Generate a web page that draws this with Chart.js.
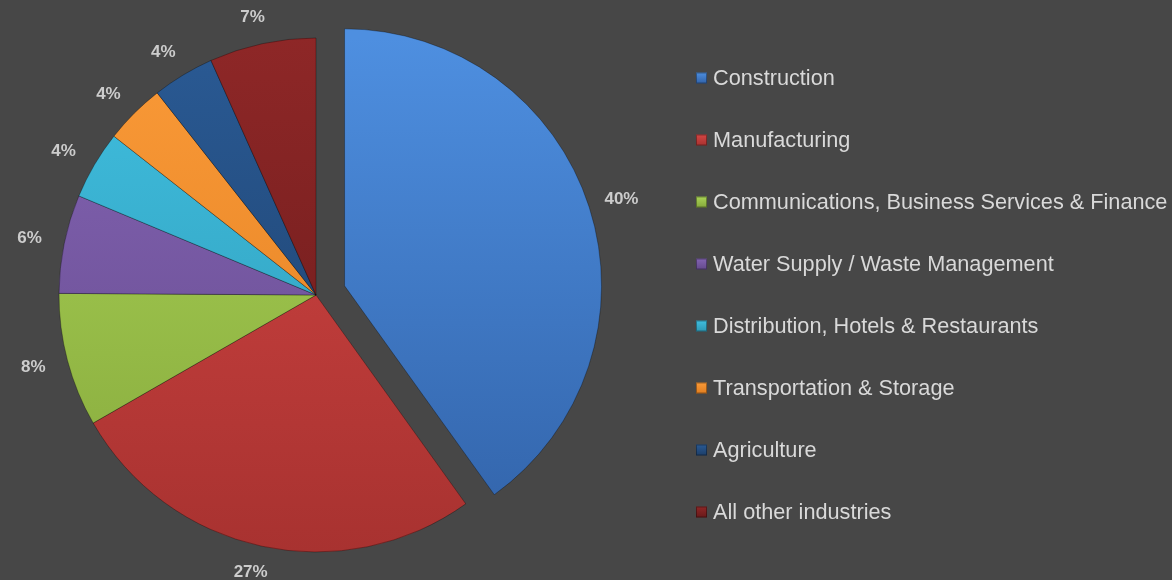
<!DOCTYPE html>
<html>

<head>
  <meta charset="utf-8">
  <title>Industry share</title>
  <script src="https://cdn.jsdelivr.net/npm/chart.js@4.4.0/dist/chart.umd.min.js"></script>
  <style>
    body { margin: 0; background: #474747; }
    #chartDiv { width: 1172px; height: 580px; position: relative; }
  </style>
</head>

<body>
  <div id="chartDiv">
    <canvas id="myChart"></canvas>
  </div>

  <script>
    // values
    const categories = ['Construction', 'Manufacturing', 'Communications, Business Services & Finance',
      'Water Supply / Waste Management', 'Distribution, Hotels & Restaurants', 'Transportation & Storage',
      'Agriculture', 'All other industries'];
    const shares = [40.1, 26.6, 8.4, 6.2, 4.3, 3.8, 3.9, 6.7];
    const shareLabels = ['40%', '27%', '8%', '6%', '4%', '4%', '4%', '7%'];

    // colours: light at the top, dark at the bottom
    const topColors = ['#4e8fe0', '#d44644', '#aad456', '#8464b4', '#40bfe0', '#fa9a38', '#2a5a94', '#8e2727'];
    const bottomColors = ['#3162a8', '#a83230', '#86a83c', '#644a8c', '#2e98b4', '#e07e20', '#1c3e68', '#681a1a'];
    const explodeBy = [30, 0, 0, 0, 0, 0, 0, 0];

    const textColor = '#d9d9d9';

    function sliceFill(context) {
      const i = context.dataIndex;
      const area = context.chart.chartArea;
      if (!area) return topColors[i];
      const g = context.chart.ctx.createLinearGradient(0, area.top, 0, area.bottom);
      g.addColorStop(0, topColors[i]);
      g.addColorStop(1, bottomColors[i]);
      return g;
    }

    // push the exploded slice out along its middle angle
    const explodePlugin = {
      id: 'explode',
      afterDatasetUpdate(chart, args) {
        args.meta.data.forEach((arc, i) => {
          const d = explodeBy[i] || 0;
          if (!d) return;
          const mid = (arc.startAngle + arc.endAngle) / 2;
          arc.x += Math.cos(mid) * d;
          arc.y += Math.sin(mid) * d;
        });
      }
    };

    // percent labels outside the pie, nearest edge of the text kept 20px off the rim
    const labelPlugin = {
      id: 'outLabels',
      afterDatasetsDraw(chart) {
        const ctx = chart.ctx;
        const meta = chart.getDatasetMeta(0);
        ctx.save();
        ctx.font = 'bold 17px "Liberation Sans", Arial, sans-serif';
        ctx.fillStyle = '#cccccc';
        ctx.textAlign = 'center';
        ctx.textBaseline = 'middle';
        meta.data.forEach((arc, i) => {
          const mid = (arc.startAngle + arc.endAngle) / 2;
          const cos = Math.cos(mid), sin = Math.sin(mid);
          const w = ctx.measureText(shareLabels[i]).width;
          const r = arc.outerRadius + 20;
          const x = arc.x + cos * r + cos * w / 2 - 3;
          const y = arc.y + sin * r + sin * 7;
          ctx.fillText(shareLabels[i], x, y);
        });
        ctx.restore();
      }
    };

    // legend on the right, one row every 62px
    const legendPlugin = {
      id: 'sideLegend',
      afterDraw(chart) {
        const ctx = chart.ctx;
        const left = 696, top = 78, step = 62, box = 11;
        ctx.save();
        ctx.font = '21.7px "Liberation Sans", Arial, sans-serif';
        ctx.textBaseline = 'middle';
        chart.data.labels.forEach((label, i) => {
          const y = top + i * step;
          const g = ctx.createLinearGradient(0, y - box / 2, 0, y + box / 2);
          g.addColorStop(0, topColors[i]);
          g.addColorStop(1, bottomColors[i]);
          ctx.fillStyle = g;
          ctx.fillRect(left, y - box / 2, box, box);
          ctx.strokeStyle = 'rgba(0,0,0,0.35)';
          ctx.lineWidth = 1;
          ctx.strokeRect(left + 0.5, y - box / 2 + 0.5, box - 1, box - 1);
          ctx.fillStyle = textColor;
          ctx.fillText(label, left + 17, y + 1);
        });
        ctx.restore();
      }
    };

    const ctx = document.getElementById('myChart').getContext('2d');
    const myChart = new Chart(ctx, {
      type: 'pie',
      data: {
        labels: categories,
        datasets: [{
          data: shares,
          backgroundColor: sliceFill,
          borderColor: 'rgba(0,0,0,0.3)',
          borderWidth: 1
        }]
      },
      options: {
        responsive: true,
        maintainAspectRatio: false,
        animation: false,
        layout: {
          padding: { left: 0, right: 540, top: 37.5, bottom: 27.5 }
        },
        plugins: {
          legend: { display: false },
          tooltip: { enabled: false }
        }
      },
      plugins: [explodePlugin, labelPlugin, legendPlugin]
    });
  </script>
</body>

</html>
